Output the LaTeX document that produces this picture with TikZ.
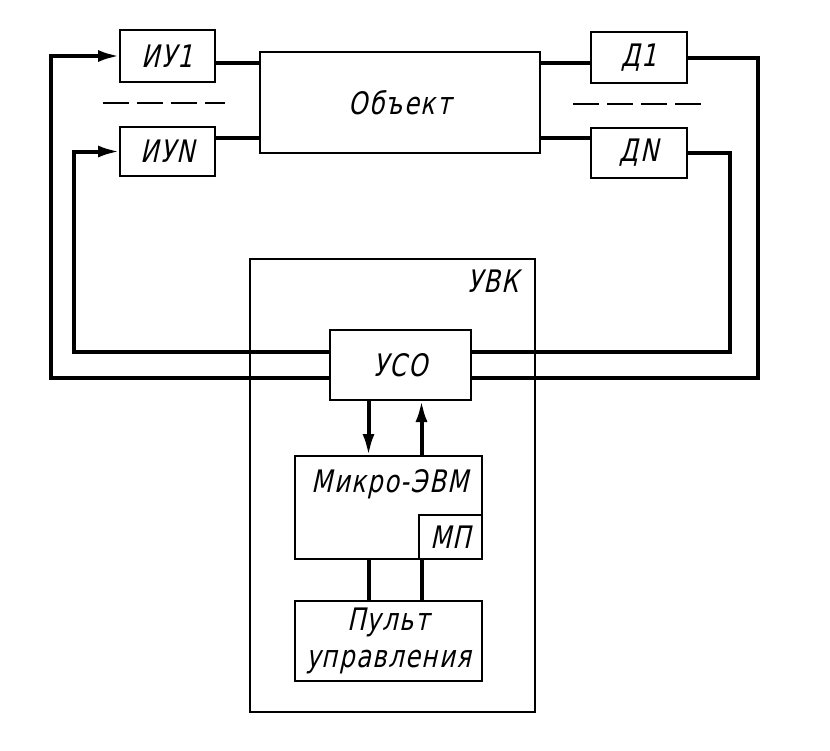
\documentclass[tikz,border=0pt]{standalone}
\usepackage{fontspec}
\usetikzlibrary{arrows.meta}
\newfontfamily\gost{DejaVu Sans}[FakeSlant=0.22,FakeStretch=0.78,LetterSpace=5]

\begin{document}
\begin{tikzpicture}[x=1pt,y=-1pt,
  blk/.style={draw,line width=1.4pt,inner sep=0pt,outer sep=0pt,
    font=\gost\fontsize{31}{37}\selectfont,align=center},
  txt/.style={inner sep=0pt,font=\gost\fontsize{31}{37}\selectfont},
  bus/.style={line width=4pt},
  arr/.style={bus,-{Latex[length=22pt,width=12pt]}},
  gap/.style={line width=1.6pt,dash pattern=on 26pt off 8pt}]
\useasboundingbox (0,0) rectangle (830,750);
% executive devices, object, sensors
\node[blk,minimum width=95pt,minimum height=52pt] (iu1) at (167.5,56) {ИУ1};
\node[blk,minimum width=95pt,minimum height=49pt] (iuN) at (167.5,151.5) {ИУN};
\node[blk,minimum width=280pt,minimum height=101pt] (obj) at (400,102.5) {Объект};
\node[blk,minimum width=96pt,minimum height=51pt] (d1) at (639,57.5) {Д1};
\node[blk,minimum width=96pt,minimum height=50pt] (dN) at (639,153) {ДN};
\draw[gap] (103,103) -- (225,103);
\draw[gap] (573,104) -- (703,104);
% computer complex
\node[blk,minimum width=285pt,minimum height=453pt] (uvk) at (392.5,485.5) {};
\node[txt,anchor=north east] (uvklbl) at ([xshift=-16pt,yshift=-11pt]uvk.north east) {УВК};
\node[blk,minimum width=141pt,minimum height=70pt] (uso) at (400.5,365) {УСО};
\node[blk,minimum width=187pt,minimum height=103pt] (evm) at (388.5,507.5) {};
\node[txt] (evmlbl) at (390,484) {Микро-ЭВМ};
\node[blk,minimum width=63pt,minimum height=44pt] (mp) at (450.5,537) {МП};
\node[blk,minimum width=187pt,minimum height=80pt] (pult) at (388.5,641) {Пульт\\управления};
% object links
\coordinate (ol1) at ([yshift=40pt]obj.west);
\coordinate (olN) at ([yshift=-35pt]obj.west);
\coordinate (or1) at ([yshift=40pt]obj.east);
\coordinate (orN) at ([yshift=-35pt]obj.east);
\draw[bus] (iu1.east |- ol1) -- (ol1);
\draw[bus] (iuN.east |- olN) -- (olN);
\draw[bus] (or1) -- (d1.west |- or1);
\draw[bus] (orN) -- (dN.west |- orN);
% feedback loops
\draw[arr] ([yshift=-13pt]uso.west) -- ++(-279,0) |- (iu1.west);
\draw[arr] ([yshift=13pt]uso.west) -- ++(-256,0) |- (iuN.west);
\draw[bus] (dN.east) -- ++(43,0) |- ([yshift=13pt]uso.east);
\draw[bus] (d1.east) -- ++(71,0) |- ([yshift=-13pt]uso.east);
% inner links
\coordinate (ea) at ([xshift=-20pt]evm.north);
\coordinate (eb) at ([xshift=33pt]evm.north);
\draw[arr] (uso.south -| ea) -- (ea);
\draw[arr] (eb) -- (uso.south -| eb);
\draw[bus] (evm.south -| ea) -- (pult.north -| ea);
\draw[bus] (evm.south -| eb) -- (pult.north -| eb);
\end{tikzpicture}
\end{document}
